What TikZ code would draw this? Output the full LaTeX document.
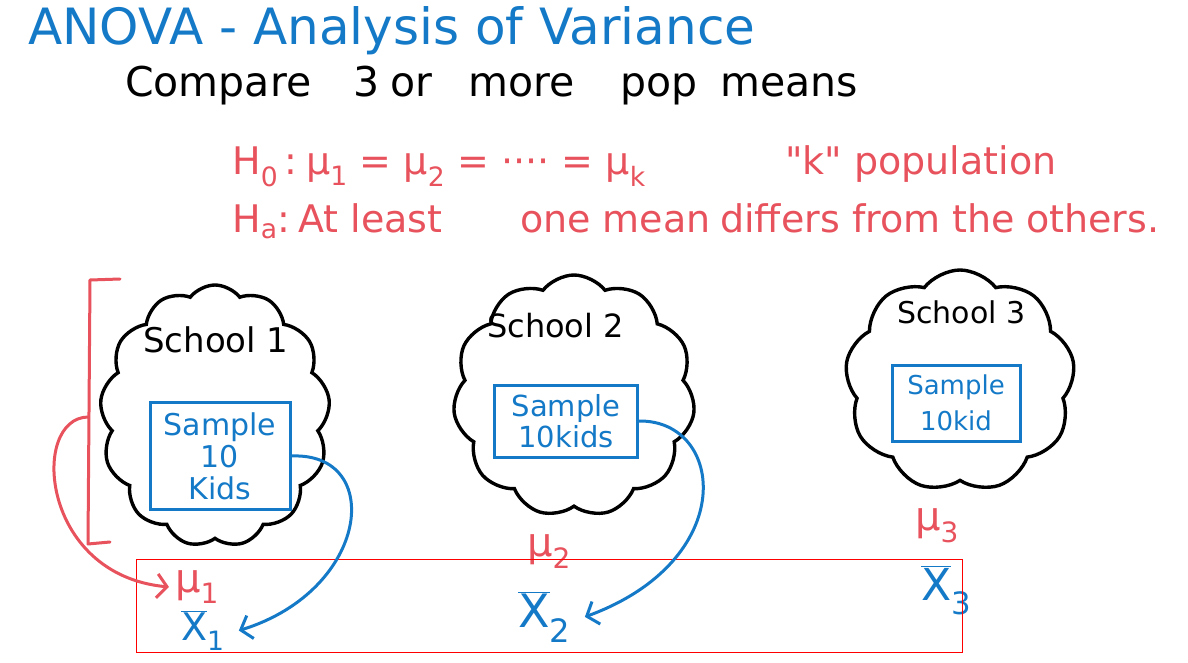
\documentclass[tikz,border=0pt]{standalone}
\usepackage{fontspec}
\setmainfont{DejaVu Sans}
\usetikzlibrary{shapes.symbols,arrows.meta}
\definecolor{penblue}{RGB}{20,122,200}
\definecolor{penred}{RGB}{232,82,92}
\definecolor{framered}{RGB}{255,0,0}
\newcommand{\fsz}[2]{\fontsize{#1}{#2}\selectfont}
\begin{document}
\begin{tikzpicture}[x=1pt,y=-1pt,
  cloudnode/.style={cloud, draw=black, line width=3.4pt, cloud puff arc=105, cloud ignores aspect, inner sep=0pt},
  samplebox/.style={draw=penblue, text=penblue, line width=3pt, inner sep=0pt, align=center},
  txt/.style={inner sep=0pt, anchor=base west},
  bluetxt/.style={txt, text=penblue},
  redtxt/.style={txt, text=penred},
  blacktxt/.style={txt, text=black},
  bluearrow/.style={draw=penblue, line width=3pt, line cap=round, -{Straight Barb[length=10pt,width=24pt,line width=3pt]}},
  redarrow/.style={draw=penred, line width=3pt, line cap=round, -{Straight Barb[length=10pt,width=24pt,line width=3pt]}}
]
\useasboundingbox (0,0) rectangle (1188,663);
\fill[white] (0,0) rectangle (1188,663);

% title and headers
\node[bluetxt, font=\fsz{50}{50}] (title) at (28,45) {ANOVA - Analysis of Variance};
\node[blacktxt, font=\fsz{41}{41}] (w1) at (125,97) {Compare};
\node[blacktxt, font=\fsz{41}{41}] (w2) at (353,97) {3};
\node[blacktxt, font=\fsz{41}{41}] (w3) at (390,97) {or};
\node[blacktxt, font=\fsz{41}{41}] (w4) at (468,97) {more};
\node[blacktxt, font=\fsz{41}{41}] (w5) at (620,97) {pop};
\node[blacktxt, font=\fsz{41}{41}] (w6) at (720,97) {means};

\node[redtxt, font=\fsz{38}{38}] (h0) at (232,175) {H\textsubscript{0}};
\node[redtxt, font=\fsz{38}{38}] (h0c) at (284,175) {:};
\node[redtxt, font=\fsz{38}{38}] (h0eq) at (306,175) {μ\textsubscript{1} = μ\textsubscript{2} = ···· = μ\textsubscript{k}};
\node[redtxt, font=\fsz{38}{38}] (h0k) at (785,175) {\textquotedbl k\textquotedbl\ population};

\node[redtxt, font=\fsz{38}{38}] (ha) at (232,232) {H\textsubscript{a}:};
\node[redtxt, font=\fsz{38}{38}] (ha1) at (298,232) {At least};
\node[redtxt, font=\fsz{38}{38}] (ha2) at (520,232) {one mean};
\node[redtxt, font=\fsz{38}{38}] (ha3) at (720,232) {differs};
\node[redtxt, font=\fsz{38}{38}] (ha4) at (852,232) {from the};
\node[redtxt, font=\fsz{38}{38}] (ha5) at (1026,232) {others.};

% clouds
\node[cloudnode, cloud puffs=13, minimum width=230pt, minimum height=262pt] (c1) at (215,416) {};
\node[cloudnode, cloud puffs=11, shape border rotate=12, minimum width=242pt, minimum height=242pt] (c2) at (574,396) {};
\node[cloudnode, cloud puffs=9, shape border rotate=25, minimum width=230pt, minimum height=222pt] (c3) at (960,381) {};

\node[blacktxt, font=\fsz{34}{34}] (s1) at (143,352) {School 1};
\node[blacktxt, font=\fsz{32}{32}] (s2) at (487,337) {School 2};
\node[blacktxt, font=\fsz{30}{30}] (s3) at (897,323) {School 3};

% sample boxes
\node[samplebox, minimum width=140pt, minimum height=107pt, font=\fsz{30}{32}] (b1) at (220,456) {Sample\\10\\Kids};
\node[samplebox, minimum width=143pt, minimum height=72pt, font=\fsz{29}{31}] (b2) at (566,421) {Sample\\10kids};
\node[samplebox, minimum width=128pt, minimum height=76pt, font=\fsz{26}{36}] (b3) at (956,403) {Sample\\10kid};

% bracket
\draw[penred, line width=3pt, line cap=round, line join=round] (120,279) -- (90,280) -- (88,544) -- (110,542);
\coordinate (brk) at (88,417);

% means
\node[redtxt, font=\fsz{40}{40}] (m1) at (175,592) {μ\textsubscript{1}};
\node[redtxt, font=\fsz{40}{40}] (m2) at (527,556) {μ\textsubscript{2}};
\node[redtxt, font=\fsz{40}{40}] (m3) at (915,530) {μ\textsubscript{3}};

\node[bluetxt, font=\fsz{38}{38}] (x1) at (181,640) {$\overline{\mbox{X}}$\textsubscript{1}};
\node[bluetxt, font=\fsz{46}{46}] (x2) at (518,627) {$\overline{\mbox{X}}$\textsubscript{2}};
\node[bluetxt, font=\fsz{44}{44}] (x3) at (921,600) {$\overline{\mbox{X}}$\textsubscript{3}};

% frame
\node[draw=framered, line width=1pt, minimum width=826pt, minimum height=93pt, inner sep=0pt] (frame) at (549,605.5) {};

% connectors
\draw[redarrow] (brk) .. controls (30,418) and (40,575) .. ([xshift=-6pt]m1.west);
\draw[bluearrow] (b1.east) .. controls (385,452) and (370,590) .. ([xshift=14pt]x1.east);
\draw[bluearrow] (b2.east) .. controls (725,420) and (740,560) .. ([xshift=14pt]x2.east);
\end{tikzpicture}
\end{document}
